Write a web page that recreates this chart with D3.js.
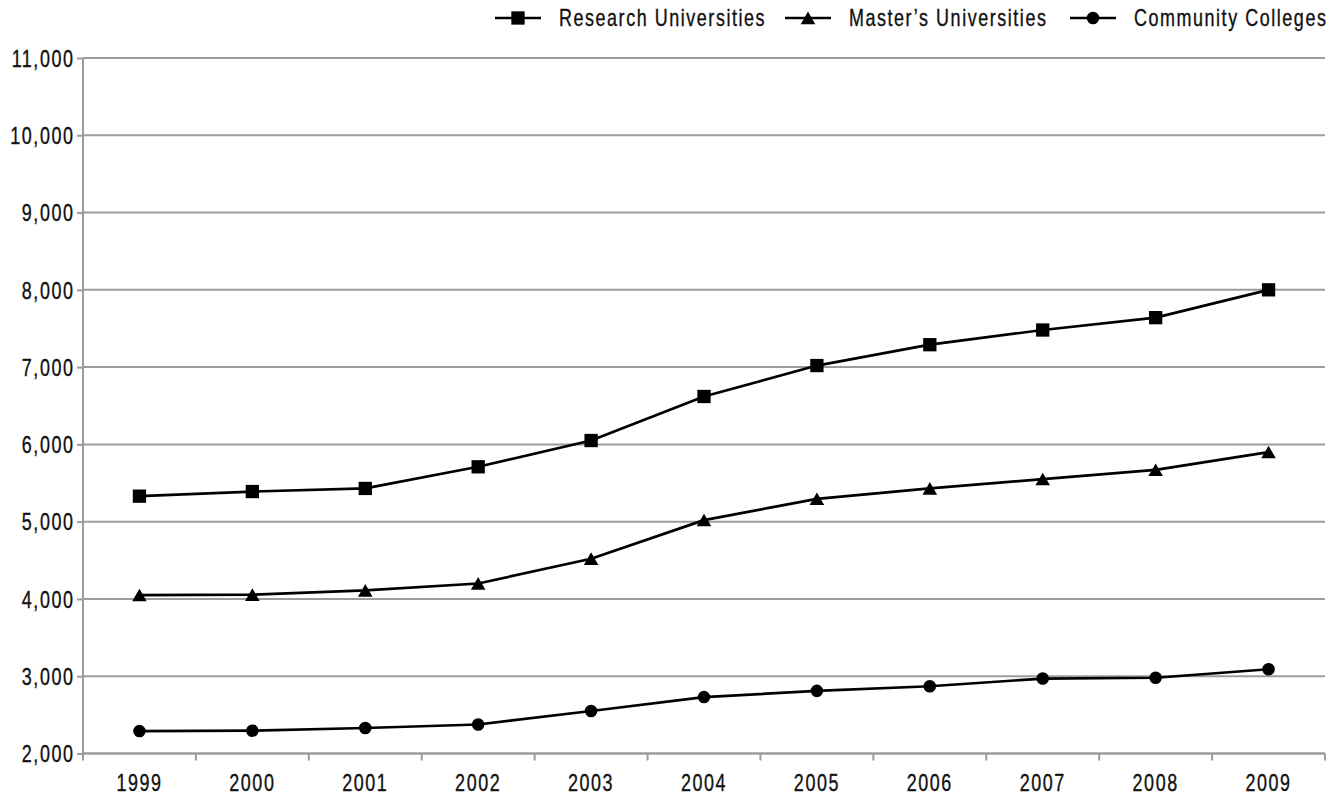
<!DOCTYPE html>
<html>
<head>
<meta charset="utf-8">
<script src="https://cdn.jsdelivr.net/npm/d3@7"></script>
<style>
  html, body { margin: 0; padding: 0; background: #fff; }
  svg text { font-family: 'Liberation Sans', Arial, sans-serif; font-size: 23px; letter-spacing: 2px; fill: #111; stroke: #111; stroke-width: 0.35px; }
</style>
</head>
<body>
<svg id="chart" width="1332" height="796"></svg>
<script>
const years = ["1999","2000","2001","2002","2003","2004","2005","2006","2007","2008","2009"];
const research = [5330, 5390, 5430, 5710, 6050, 6620, 7020, 7290, 7480, 7640, 8000];
const masters  = [4050, 4055, 4110, 4200, 4520, 5020, 5295, 5430, 5550, 5670, 5900];
const community = [2290, 2295, 2330, 2375, 2550, 2730, 2810, 2870, 2970, 2980, 3090];
const seriesNames = ["Research Universities", "Master\u2019s Universities", "Community Colleges"];
const yTicks = [2000, 3000, 4000, 5000, 6000, 7000, 8000, 9000, 10000, 11000];

const svg = d3.select("#chart");
const plotL = 83, plotR = 1325, plotT = 58, plotB = 753.5;
const gridColor = "#9c9c9c";
const squeeze = 0.78; // condensed look

const x = d3.scaleBand().domain(years).range([plotL, plotR]).padding(0);
const y = d3.scaleLinear().domain([2000, 11000]).range([plotB, plotT]);
const cx = d => x(d) + x.bandwidth() / 2;

// gridlines
svg.append("g").selectAll("line").data(yTicks).join("line")
  .attr("x1", plotL).attr("x2", plotR)
  .attr("y1", d => y(d)).attr("y2", d => y(d))
  .attr("stroke", gridColor).attr("stroke-width", 2);

// y axis
const yAxis = svg.append("g").attr("transform", `translate(${plotL},0)`)
  .call(d3.axisLeft(y).tickValues(yTicks).tickFormat(d3.format(",")).tickSize(6).tickPadding(2.5));
yAxis.attr("font-family", null).attr("font-size", null);
yAxis.select(".domain").attr("stroke", gridColor).attr("stroke-width", 2)
  .attr("d", `M0,${plotT}V${plotB}`);
yAxis.selectAll(".tick line").attr("stroke", gridColor).attr("stroke-width", 2);
yAxis.selectAll(".tick text").attr("fill", "#111").attr("dy", "0.36em");

// x axis
const xAxis = svg.append("g").attr("transform", `translate(0,${plotB})`)
  .call(d3.axisBottom(x).tickSize(0).tickPadding(21.5));
xAxis.attr("font-family", null).attr("font-size", null);
xAxis.select(".domain").attr("stroke", gridColor).attr("stroke-width", 2)
  .attr("d", `M${plotL},0H${plotR}`);
xAxis.selectAll(".tick text").attr("fill", "#111");
const boundaries = years.map(d => x(d)).concat([plotR]);
xAxis.append("g").selectAll("line").data(boundaries).join("line")
  .attr("x1", d => d).attr("x2", d => d).attr("y1", 0).attr("y2", 7)
  .attr("stroke", gridColor).attr("stroke-width", 2);

// lines
const line = d3.line().x((d, i) => cx(years[i])).y(d => y(d));
const allSeries = [research, masters, community];
svg.append("g").selectAll("path").data(allSeries).join("path")
  .attr("d", line).attr("fill", "none").attr("stroke", "#000").attr("stroke-width", 2.7)
  .attr("stroke-linejoin", "round");

const symSquare = d3.symbol().type(d3.symbolSquare).size(177);
const symTri = d3.symbol().type(d3.symbolTriangle).size(92);
const symCircle = d3.symbol().type(d3.symbolCircle).size(124);
const symbols = [symSquare, symTri, symCircle];
const symOffset = [0, 2, 0];

allSeries.forEach((s, k) => {
  svg.append("g").selectAll("path").data(s).join("path")
    .attr("d", symbols[k]())
    .attr("transform", (d, i) => `translate(${cx(years[i])},${y(d) + symOffset[k]})`)
    .attr("fill", "#000");
});

// legend
const legendX = [495, 785, 1070];
const legendY = 18;
const lg = svg.append("g");
seriesNames.forEach((name, k) => {
  const x0 = legendX[k];
  lg.append("line").attr("x1", x0).attr("x2", x0 + 46).attr("y1", legendY).attr("y2", legendY)
    .attr("stroke", "#000").attr("stroke-width", 2.7);
  lg.append("path").attr("d", symbols[k]())
    .attr("transform", `translate(${x0 + 23},${legendY + symOffset[k]})`).attr("fill", "#000");
  lg.append("text").attr("x", x0 + 64).attr("y", legendY).attr("dy", "0.36em").text(name);
});

// condense all texts horizontally
svg.selectAll("text").each(function() {
  const t = d3.select(this);
  const tx = +t.attr("x") || 0, ty = +t.attr("y") || 0;
  t.attr("x", 0).attr("y", 0).attr("transform", `translate(${tx},${ty}) scale(${squeeze},1)`);
});
</script>
</body>
</html>
